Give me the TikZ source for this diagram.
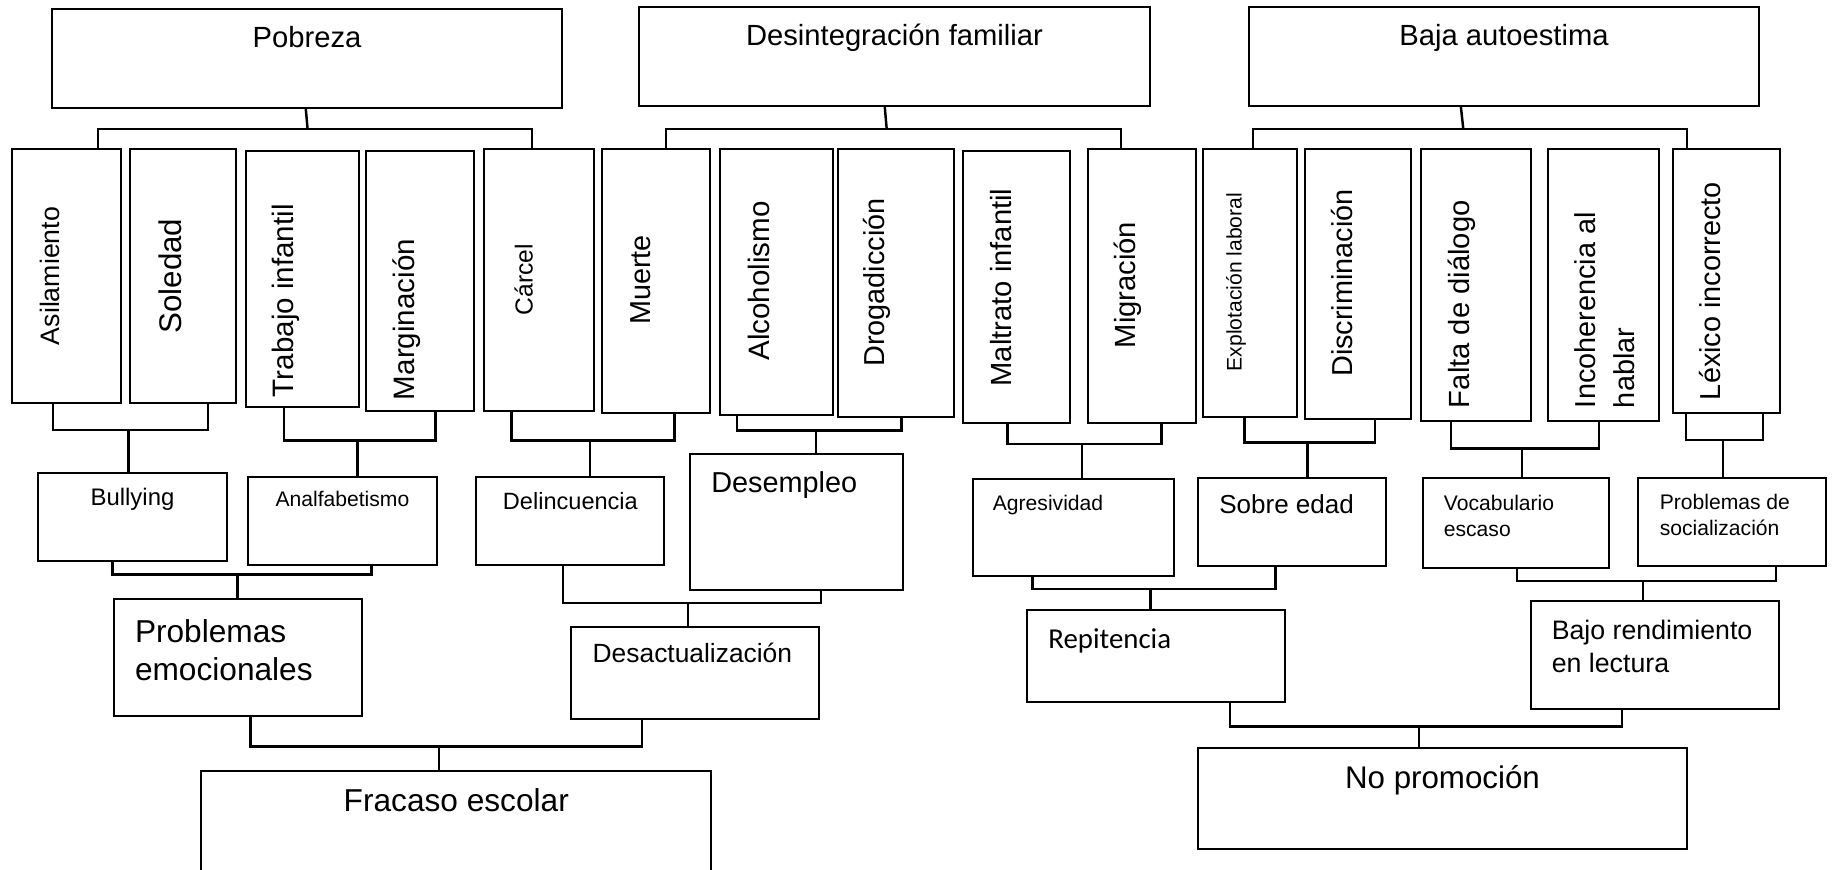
\documentclass[tikz,border=0pt]{standalone}
\usepackage{fontspec}
\setmainfont{Liberation Sans}
\newfontfamily\calibri{Carlito}
\usetikzlibrary{fit}
\newcommand{\fsz}[2]{\fontsize{#1}{#2}\selectfont}

\begin{document}
\begin{tikzpicture}[
  x=0.01cm, y=-0.01cm,
  box/.style={draw, line width=0.75pt, inner sep=0pt, outer sep=0pt},
  lbl/.style={inner sep=0pt, outer sep=0pt},
  vlbl/.style={lbl, rotate=90},
  link/.style={line width=0.7pt}
]

\useasboundingbox (0,0) rectangle (1835,869);
\clip (0,0) rectangle (1835,869);

%======================
% TOP: MAIN CAUSES
%======================

\node[box, fit={(52,9) (562,108)}] (pob) {};
\node[box, fit={(639,7) (1150,106)}] (des) {};
\node[box, fit={(1249,7) (1759,106)}] (baja) {};

\node[lbl, anchor=base, font={\fsz{8.3}{10}}] (pob-t) at (307,47) {Pobreza};
\node[lbl, anchor=base, font={\fsz{8.3}{10}}] (des-t) at (894.5,45) {Desintegración familiar};
\node[lbl, anchor=base, font={\fsz{8.3}{10}}] (baja-t) at (1504,45) {Baja autoestima};

%======================
% VERTICAL BOXES
%======================

\node[box, fit={(12,149) (121,403)}] (asil) {};
\node[box, fit={(130,149) (236,403)}] (sole) {};
\node[box, fit={(246,151) (359,407)}] (trab) {};
\node[box, fit={(366,151) (474,411)}] (marg) {};
\node[box, fit={(484,149) (594,411)}] (carc) {};
\node[box, fit={(602,149) (710,413)}] (muer) {};
\node[box, fit={(720,149) (833,415)}] (alco) {};
\node[box, fit={(838,149) (954,417)}] (drog) {};
\node[box, fit={(963,151) (1070,423)}] (malt) {};
\node[box, fit={(1088,149) (1196,423)}] (migr) {};
\node[box, fit={(1203,149) (1297,417)}] (expl) {};
\node[box, fit={(1305,149) (1411,419)}] (disc) {};
\node[box, fit={(1421,149) (1531,421)}] (falt) {};
\node[box, fit={(1548,149) (1659,421)}] (inco) {};
\node[box, fit={(1673,149) (1780,413)}] (lexi) {};

% rotated labels
\node[vlbl, anchor=base, font={\fsz{7.6}{9}}] (asil-t) at (59,276) {Asilamiento};
\node[vlbl, anchor=base, font={\fsz{8.9}{10}}] (sole-t) at (181,276) {Soledad};
\node[vlbl, anchor=base west, font={\fsz{8.4}{10}}] (trab-t) at (293,397) {Trabajo infantil};
\node[vlbl, anchor=base west, font={\fsz{8.4}{10}}] (marg-t) at (414.5,400) {Marginación};
\node[vlbl, anchor=base, font={\fsz{7}{8.4}}] (carc-t) at (532.5,279.5) {Cárcel};
\node[vlbl, anchor=base, font={\fsz{8.2}{10}}] (muer-t) at (650,280) {Muerte};
\node[vlbl, anchor=base, font={\fsz{8.4}{10}}] (alco-t) at (769.5,281) {Alcoholismo};
\node[vlbl, anchor=base, font={\fsz{8.2}{10}}] (drog-t) at (884.6,282.5) {Drogadicción};
\node[vlbl, anchor=base, font={\fsz{8.3}{10}}] (malt-t) at (1011.5,287.5) {Maltrato infantil};
\node[vlbl, anchor=base, font={\fsz{8.3}{10}}] (migr-t) at (1135.7,285) {Migración};
\node[vlbl, anchor=base, font={\fsz{6}{7.2}}] (expl-t) at (1241.5,282) {Explotación laboral};
\node[vlbl, anchor=base, font={\fsz{8.2}{10}}] (disc-t) at (1352,283) {Discriminación};
\node[vlbl, anchor=base west, font={\fsz{8.3}{10}}] (falt-t) at (1469,408) {Falta de diálogo};
\node[vlbl, anchor=north west, align=left, font={\fsz{8.2}{11}}] (inco-t) at (1574.6,408) {Incoherencia al\\hablar};
\node[vlbl, anchor=base west, font={\fsz{8.2}{10}}] (lexi-t) at (1720.5,400) {Léxico incorrecto};

%======================
% SECOND ROW
%======================

\node[box, fit={(38,473) (227,561)}] (bull) {};
\node[box, fit={(248,477) (437,565)}] (anal) {};
\node[box, fit={(476,477) (664,565)}] (deli) {};
\node[box, fit={(690,454) (903,590)}] (dese) {};
\node[box, fit={(973,479) (1174,576)}] (agre) {};
\node[box, fit={(1198,478) (1386,566)}] (sobr) {};
\node[box, fit={(1423,478) (1609,568)}] (voca) {};
\node[box, fit={(1638,478) (1826,566)}] (prob) {};

\node[lbl, anchor=base, font={\fsz{6.8}{8}}] (bull-t) at (132.5,505) {Bullying};
\node[lbl, anchor=base, font={\fsz{6}{7.2}}] (anal-t) at (342.4,506.7) {Analfabetismo};
\node[lbl, anchor=base, font={\fsz{6.7}{8}}] (deli-t) at (570.4,509) {Delincuencia};
\node[lbl, anchor=base west, font={\fsz{8.2}{10}}] (dese-t) at (711.3,492.3) {Desempleo};
\node[lbl, anchor=base west, font={\fsz{6}{7.2}}] (agre-t) at (992.9,510) {Agresividad};
\node[lbl, anchor=base west, font={\fsz{7.4}{9}}] (sobr-t) at (1219.3,513.3) {Sobre edad};
\node[lbl, anchor=north west, align=left, font={\fsz{6}{7.4}}] (voca-t) at (1443.9,495) {Vocabulario\\escaso};
\node[lbl, anchor=north west, align=left, font={\fsz{6}{7.4}}] (prob-t) at (1659.8,494) {Problemas de\\socialización};

%======================
% THIRD ROW
%======================

\node[box, fit={(114,599) (362,716)}] (emoc) {};
\node[box, fit={(571,627) (819,719)}] (desa) {};
\node[box, fit={(1027,610) (1285,702)}] (repi) {};
\node[box, fit={(1531,601) (1779,709)}] (bajo) {};

\node[lbl, anchor=north west, align=left, font={\fsz{9}{10.8}}] (emoc-t) at (135,620) {Problemas\\emocionales};
\node[lbl, anchor=base west, font={\fsz{7.5}{9}}] (desa-t) at (592.7,662.7) {Desactualización};
\node[lbl, anchor=base west, font={\calibri\fsz{8.2}{10}}] (repi-t) at (1048.4,648.3) {Repitencia};
\node[lbl, anchor=north west, align=left, font={\fsz{7.6}{9.4}}] (bajo-t) at (1551.8,620) {Bajo rendimiento\\en lectura};

%======================
% BOTTOM: EFFECTS
%======================

\node[box, fit={(201,771) (711,890)}] (frac) {};
\node[box, fit={(1198,748) (1687,849)}] (nopr) {};

\node[lbl, anchor=base, font={\fsz{9}{10.8}}] (frac-t) at (456.3,811.7) {Fracaso escolar};
\node[lbl, anchor=base, font={\fsz{8.9}{10.8}}] (nopr-t) at (1442.5,788.3) {No promoción};

%======================
% TOP CONNECTORS
%======================

\coordinate (pobL) at (98,129);
\coordinate (pobM) at (307.6,129);
\coordinate (pobR) at (532,129);
\coordinate (pobS) at (305.7,0);
\draw[link] (pob.south -| pobS) -- (pobM);
\draw[link] (asil.north -| pobL) -- (pobL) -- (pobR) -- (carc.north -| pobR);

\coordinate (desL) at (666,129);
\coordinate (desM) at (886.7,129);
\coordinate (desR) at (1121,129);
\coordinate (desS) at (884.7,0);
\draw[link] (des.south -| desS) -- (desM);
\draw[link] (muer.north -| desL) -- (desL) -- (desR) -- (migr.north -| desR);

\coordinate (bajaL) at (1253,129);
\coordinate (bajaM) at (1463.3,129);
\coordinate (bajaR) at (1687,129);
\coordinate (bajaS) at (1460.8,0);
\draw[link] (baja.south -| bajaS) -- (bajaM);
\draw[link] (expl.north -| bajaL) -- (bajaL) -- (bajaR) -- (lexi.north -| bajaR);

%======================
% BRACKETS: VERTICAL -> SECOND ROW
%======================

\coordinate (b1l) at (53,430);
\coordinate (b1m) at (128.5,430);
\coordinate (b1r) at (208,430);
\draw[link] (asil.south -| b1l) -- (b1l) -- (b1r) -- (sole.south -| b1r);
\draw[link] (b1m) -- (bull.north -| b1m);

\coordinate (b2l) at (284,440.7);
\coordinate (b2m) at (357.6,440.7);
\coordinate (b2r) at (435.7,440.7);
\draw[link] (trab.south -| b2l) -- (b2l) -- (b2r) -- (marg.south -| b2r);
\draw[link] (b2m) -- (anal.north -| b2m);

\coordinate (b3l) at (511.7,440.5);
\coordinate (b3m) at (590,440.5);
\coordinate (b3r) at (674.3,440.5);
\draw[link] (carc.south -| b3l) -- (b3l) -- (b3r) -- (muer.south -| b3r);
\draw[link] (b3m) -- (deli.north -| b3m);

\coordinate (b4l) at (737.2,430.7);
\coordinate (b4m) at (816,430.7);
\coordinate (b4r) at (901.3,430.7);
\draw[link] (alco.south -| b4l) -- (b4l) -- (b4r) -- (drog.south -| b4r);
\draw[link] (b4m) -- (dese.north -| b4m);

\coordinate (b5l) at (1007.3,444);
\coordinate (b5m) at (1082,444);
\coordinate (b5r) at (1161.5,444);
\draw[link] (malt.south -| b5l) -- (b5l) -- (b5r) -- (migr.south -| b5r);
\draw[link] (b5m) -- (agre.north -| b5m);

\coordinate (b6l) at (1244.6,442.7);
\coordinate (b6m) at (1307.3,442.7);
\coordinate (b6r) at (1375,442.7);
\draw[link] (expl.south -| b6l) -- (b6l) -- (b6r) -- (disc.south -| b6r);
\draw[link] (b6m) -- (sobr.north -| b6m);

\coordinate (b7l) at (1451.1,448.7);
\coordinate (b7m) at (1522,448.7);
\coordinate (b7r) at (1598.9,448.7);
\draw[link] (falt.south -| b7l) -- (b7l) -- (b7r) -- (inco.south -| b7r);
\draw[link] (b7m) -- (voca.north -| b7m);

\coordinate (b8l) at (1686,440);
\coordinate (b8m) at (1723,440);
\coordinate (b8r) at (1763,440);
\draw[link] (lexi.south -| b8l) -- (b8l) -- (b8r) -- (lexi.south -| b8r);
\draw[link] (b8m) -- (prob.north -| b8m);

%======================
% BRACKETS: SECOND ROW -> THIRD ROW
%======================

\coordinate (c1l) at (112.7,574.3);
\coordinate (c1m) at (237.7,574.3);
\coordinate (c1r) at (371.5,574.3);
\draw[link] (bull.south -| c1l) -- (c1l) -- (c1r) -- (anal.south -| c1r);
\draw[link] (c1m) -- (emoc.north -| c1m);

\coordinate (c2l) at (562.8,603);
\coordinate (c2m) at (687.8,603);
\coordinate (c2r) at (821,603);
\draw[link] (deli.south -| c2l) -- (c2l) -- (c2r) -- (dese.south -| c2r);
\draw[link] (c2m) -- (desa.north -| c2m);

\coordinate (c3l) at (1032.6,589);
\coordinate (c3m) at (1150.5,589);
\coordinate (c3r) at (1275.3,589);
\draw[link] (agre.south -| c3l) -- (c3l) -- (c3r) -- (sobr.south -| c3r);
\draw[link] (c3m) -- (repi.north -| c3m);

\coordinate (c4l) at (1516.9,581);
\coordinate (c4m) at (1642.9,581);
\coordinate (c4r) at (1775.9,581);
\draw[link] (voca.south -| c4l) -- (c4l) -- (c4r) -- (prob.south -| c4r);
\draw[link] (c4m) -- (bajo.north -| c4m);

%======================
% BRACKETS: THIRD ROW -> EFFECTS
%======================

\coordinate (d1l) at (250.6,746.7);
\coordinate (d1m) at (439,746.7);
\coordinate (d1r) at (642,746.7);
\draw[link] (emoc.south -| d1l) -- (d1l) -- (d1r) -- (desa.south -| d1r);
\draw[link] (d1m) -- (frac.north -| d1m);

\coordinate (d2l) at (1229.8,726.7);
\coordinate (d2m) at (1419,726.7);
\coordinate (d2r) at (1621.9,726.7);
\draw[link] (repi.south -| d2l) -- (d2l) -- (d2r) -- (bajo.south -| d2r);
\draw[link] (d2m) -- (nopr.north -| d2m);

\end{tikzpicture}
\end{document}
